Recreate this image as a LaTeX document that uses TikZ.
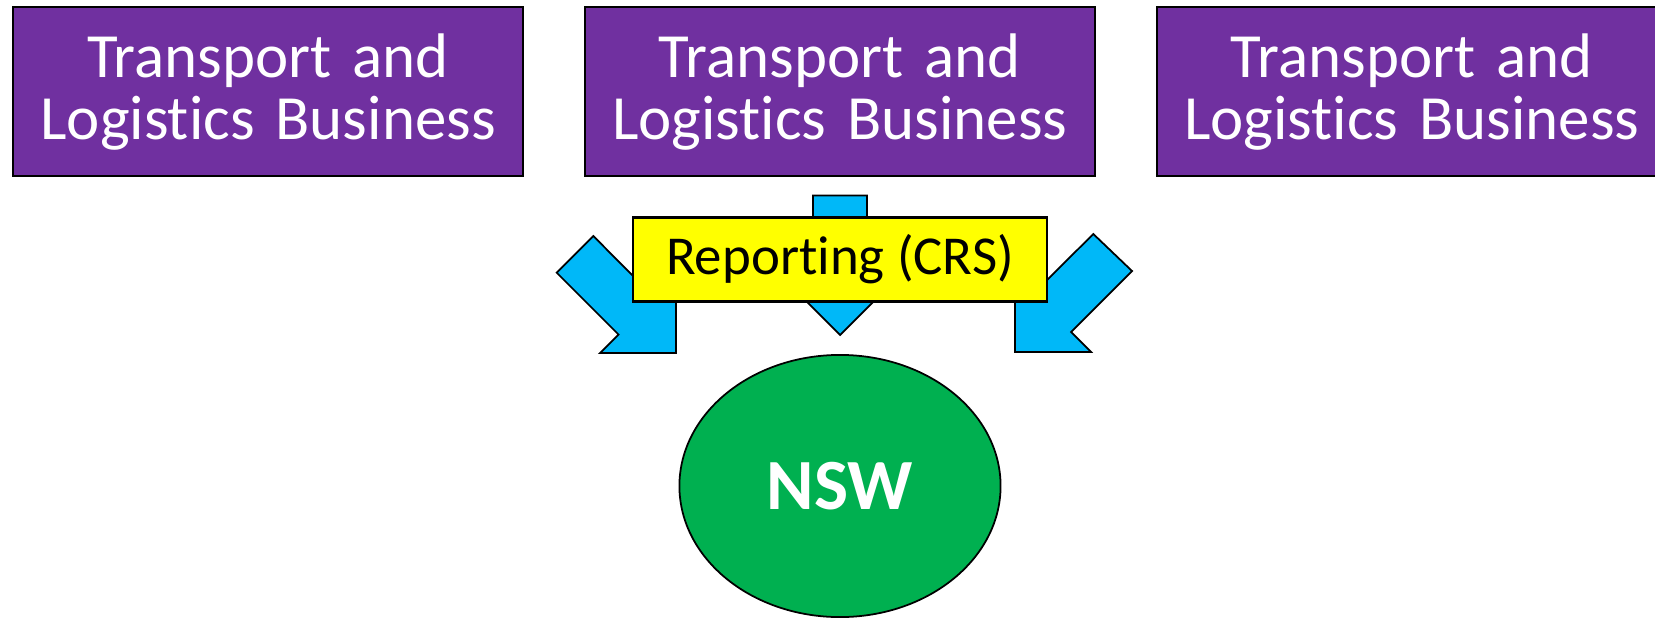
\documentclass[tikz,border=0pt]{standalone}
\usepackage{fontspec}
\setmainfont{Carlito}[Ligatures=NoCommon]
\usetikzlibrary{shapes.geometric}
\definecolor{bizpurple}{HTML}{7030A0}
\definecolor{flowblue}{HTML}{00B8F8}
\definecolor{crsyellow}{HTML}{FFFF00}
\definecolor{nswgreen}{HTML}{00B050}
\tikzset{
  bizbox/.style={draw=black,line width=0.6pt,fill=bizpurple,text=white,
    minimum width=5.1cm,minimum height=1.69cm,inner sep=0pt,
    text width=5cm,align=center,font=\fontsize{17.9}{17.5}\selectfont},
  crsbox/.style={draw=black,line width=0.6pt,fill=crsyellow,
    minimum width=4.14cm,minimum height=0.84cm,inner sep=0pt,
    font=\fontsize{15.6}{18}\selectfont},
  flowarrow/.style={draw=black,line width=0.5pt,fill=flowblue,line join=miter},
  stateoval/.style={ellipse,draw=black,line width=0.5pt,fill=nswgreen,text=white,
    minimum width=3.21cm,minimum height=2.62cm,inner sep=0pt,
    font=\fontsize{20.5}{24}\selectfont\bfseries}
}
\begin{document}
\begin{tikzpicture}[x=0.01cm,y=-0.01cm]
  \useasboundingbox (0,0) rectangle (1655,618);
  % businesses
  \node[bizbox] (biz1) at (268.1,91.85) {Transport and\\Logistics Business};
  \node[bizbox] (biz2) at (839.7,91.85) {Transport and\\Logistics Business};
  \node[bizbox] (biz3) at (1411.8,91.85) {Transport and\\Logistics Business};
  % arrows down to the state
  \draw[flowarrow] (556.7,272.7) -- (593.3,236) -- (655,298) -- (676,277)
    -- (676,353) -- (600,353) -- (618.5,334.5) -- cycle;
  \draw[flowarrow] (813,195.5) -- (867,195.5) -- (867,281) -- (894,281)
    -- (840,335) -- (786,281) -- (813,281) -- cycle;
  \draw[flowarrow] (1132,271) -- (1093.3,234) -- (1033,294) -- (1015,276)
    -- (1015,352) -- (1091,352) -- (1071,332) -- cycle;
  \node[crsbox] (crs) at (840,259.5) {Reporting (CRS)};
  \node[stateoval] (nsw) at (840,486) {NSW};
\end{tikzpicture}
\end{document}
